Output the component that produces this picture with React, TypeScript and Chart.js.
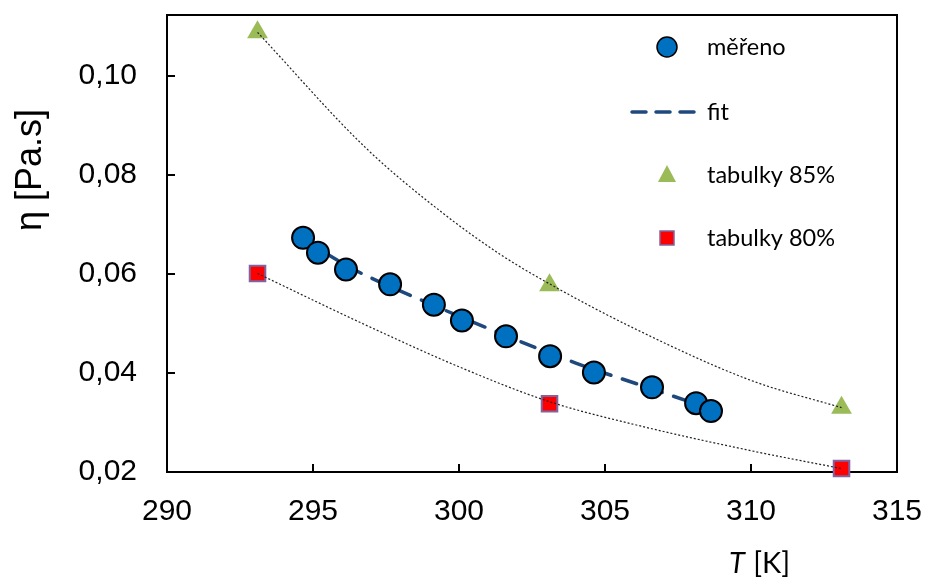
import React, { useEffect, useRef } from "react";
import { Chart, registerables } from "chart.js";

Chart.register(...registerables);

// ---- data ----
const measuredT = [294.66, 295.17, 296.13, 297.64, 299.14, 300.1, 301.61, 303.12, 304.62, 306.61, 308.12, 308.63];
const measuredEta = [0.0673, 0.0643, 0.0609, 0.0579, 0.0538, 0.0506, 0.0474, 0.0434, 0.0401, 0.0371, 0.0339, 0.0323];
const fitT = [294.6, 296.5, 299.0, 301.5, 304.0, 306.5, 308.7];
const fitEta = [0.0671, 0.0606, 0.054, 0.0478, 0.042, 0.037, 0.0326];
const tableT = [293.1, 303.1, 313.1];
const table85 = [0.1088, 0.0577, 0.033];
const table80 = [0.0601, 0.0338, 0.0207];
// dotted trend curves through the table points
const trend85T = [293.1, 296.8, 299.4, 301.4, 303.1, 306.0, 310.0, 313.1];
const trend85Eta = [0.1088, 0.0855, 0.0725, 0.064, 0.058, 0.049, 0.0385, 0.033];
const trend80T = [293.1, 296.8, 300.1, 303.1, 306.0, 310.0, 313.1];
const trend80Eta = [0.0601, 0.0497, 0.041, 0.0342, 0.0296, 0.0243, 0.0207];
const xTicks = [290, 295, 300, 305, 310, 315];
const yTicks = [0.02, 0.04, 0.06, 0.08, 0.1];
const legendLabels = ["měřeno", "fit", "tabulky 85%", "tabulky 80%"];
const xTitle = ["T", " [K]"];
const yTitle = "η [Pa.s]";

const pts = (xs: number[], ys: number[]) => xs.map((x, i) => ({ x, y: ys[i] }));

const BLUE = "#0070C0";
const GREEN = "#9BBB59";
const RED = "#FF0000";
const PURPLE = "#8064A2";
const NAVY = "#1F497D";

const zeroPad = (s: any) => {
  s.paddingLeft = 0;
  s.paddingRight = 0;
  s.paddingTop = 0;
  s.paddingBottom = 0;
};

const decorPlugin = {
  id: "decor",
  beforeDatasetsDraw(chart: any) {
    const { ctx, chartArea: a, scales } = chart;
    ctx.save();
    ctx.strokeStyle = "#000";
    ctx.lineWidth = 2;
    ctx.strokeRect(a.left, a.top, a.right - a.left, a.bottom - a.top);
    ctx.beginPath();
    xTicks.slice(1, -1).forEach((v) => {
      const px = Math.round(scales.x.getPixelForValue(v));
      ctx.moveTo(px, a.bottom);
      ctx.lineTo(px, a.bottom - 8);
    });
    yTicks.slice(1).forEach((v) => {
      const py = Math.round(scales.y.getPixelForValue(v));
      ctx.moveTo(a.left, py);
      ctx.lineTo(a.left + 8, py);
    });
    ctx.stroke();
    ctx.restore();
  },
  afterDraw(chart: any) {
    const { ctx } = chart;
    ctx.save();
    // y title
    ctx.fillStyle = "#000";
    ctx.font = "36px 'Liberation Sans', Arial, sans-serif";
    ctx.textAlign = "center";
    ctx.textBaseline = "middle";
    ctx.translate(31, 170);
    ctx.rotate(-Math.PI / 2);
    ctx.fillText(yTitle, 0, 0);
    ctx.restore();

    // x title
    ctx.save();
    ctx.fillStyle = "#000";
    ctx.textBaseline = "middle";
    ctx.textAlign = "left";
    const fIt = "italic 29px Lato, sans-serif";
    const fN = "29px Lato, sans-serif";
    ctx.font = fIt;
    const w1 = ctx.measureText(xTitle[0]).width;
    ctx.font = fN;
    const w2 = ctx.measureText(xTitle[1]).width;
    const x0 = 759 - (w1 + w2) / 2;
    ctx.font = fIt;
    ctx.fillText(xTitle[0], x0, 564);
    ctx.font = fN;
    ctx.fillText(xTitle[1], x0 + w1 + 1, 564);

    // legend
    const ys = [47, 112, 175, 238];
    const mx = 667;
    ctx.font = "23.5px Lato, sans-serif";
    legendLabels.forEach((t, i) => ctx.fillText(t, 707, ys[i]));
    // circle
    ctx.beginPath();
    ctx.arc(mx, ys[0], 10, 0, Math.PI * 2);
    ctx.fillStyle = BLUE;
    ctx.fill();
    ctx.lineWidth = 1.5;
    ctx.strokeStyle = "#000";
    ctx.stroke();
    // dashed line
    ctx.beginPath();
    ctx.setLineDash([14, 10]);
    ctx.lineCap = "round";
    ctx.strokeStyle = NAVY;
    ctx.lineWidth = 3.5;
    ctx.moveTo(632, ys[1]);
    ctx.lineTo(697, ys[1]);
    ctx.stroke();
    ctx.setLineDash([]);
    ctx.lineCap = "butt";
    // triangle
    ctx.beginPath();
    ctx.moveTo(mx, ys[2] - 10);
    ctx.lineTo(mx + 9, ys[2] + 7);
    ctx.lineTo(mx - 9, ys[2] + 7);
    ctx.closePath();
    ctx.fillStyle = GREEN;
    ctx.fill();
    // square
    ctx.fillStyle = RED;
    ctx.fillRect(mx - 7, ys[3] - 7, 14, 14);
    ctx.strokeStyle = PURPLE;
    ctx.lineWidth = 1.5;
    ctx.strokeRect(mx - 7, ys[3] - 7, 14, 14);
    ctx.restore();
  },
};

export default function App() {
  const ref = useRef<HTMLCanvasElement | null>(null);
  useEffect(() => {
    if (!ref.current) return;
    const chart = new Chart(ref.current, {
      type: "scatter",
      data: {
        datasets: [
          {
            label: "měřeno",
            data: pts(measuredT, measuredEta),
            pointStyle: "circle",
            pointRadius: 11,
            pointBackgroundColor: BLUE,
            pointBorderColor: "#000",
            pointBorderWidth: 2,
            showLine: false,
            clip: false,
          } as any,
          {
            label: "fit",
            data: pts(fitT, fitEta),
            showLine: true,
            pointRadius: 0,
            borderColor: NAVY,
            borderWidth: 3.5,
            borderDash: [15, 12],
            borderCapStyle: "round",
            cubicInterpolationMode: "monotone",
            clip: false,
          },
          {
            label: "85 line",
            data: pts(trend85T, trend85Eta),
            showLine: true,
            pointRadius: 0,
            borderColor: "#222",
            borderWidth: 1.2,
            borderDash: [2, 2],
            cubicInterpolationMode: "monotone",
            clip: false,
          },
          {
            label: "80 line",
            data: pts(trend80T, trend80Eta),
            showLine: true,
            pointRadius: 0,
            borderColor: "#222",
            borderWidth: 1.2,
            borderDash: [2, 2],
            cubicInterpolationMode: "monotone",
            clip: false,
          },
          {
            label: "tabulky 85%",
            data: pts(tableT, table85),
            showLine: false,
            pointStyle: "triangle",
            pointRadius: 12,
            pointBackgroundColor: GREEN,
            pointBorderColor: GREEN,
            pointBorderWidth: 0,
            clip: false,
          },
          {
            label: "tabulky 80%",
            data: pts(tableT, table80),
            showLine: false,
            pointStyle: "rect",
            pointRadius: 11,
            pointBackgroundColor: RED,
            pointBorderColor: PURPLE,
            pointBorderWidth: 2,
            clip: false,
          },
        ],
      },
      options: {
        animation: false,
        responsive: true,
        maintainAspectRatio: false,
        layout: { padding: { left: 0, top: 15, right: 28, bottom: 0 } },
        plugins: { legend: { display: false }, tooltip: { enabled: false } },
        scales: {
          x: {
            type: "linear",
            min: 290,
            max: 315,
            afterBuildTicks: (s: any) => {
              s.ticks = xTicks.map((v) => ({ value: v }));
            },
            afterFit: (s: any) => {
              s.height = 111;
              zeroPad(s);
            },
            grid: { display: false },
            border: { display: false },
            ticks: {
              color: "#000",
              padding: 14,
              font: { family: "'Liberation Sans', Arial, sans-serif", size: 30 },
              callback: (v: any) => String(v),
            },
          },
          y: {
            type: "linear",
            min: 0.02,
            max: 0.1123,
            afterBuildTicks: (s: any) => {
              s.ticks = yTicks.map((v) => ({ value: v }));
            },
            afterFit: (s: any) => {
              s.width = 167;
              zeroPad(s);
            },
            grid: { display: false },
            border: { display: false },
            ticks: {
              color: "#000",
              padding: 22,
              font: { family: "'Liberation Sans', Arial, sans-serif", size: 30 },
              callback: (v: any) => Number(v).toFixed(2).replace(".", ","),
            },
          },
        },
      },
      plugins: [decorPlugin],
    });
    return () => chart.destroy();
  }, []);
  return (
    <div style={{ position: "fixed", left: 0, top: 0, width: 925, height: 583, background: "#fff" }}>
      <canvas ref={ref} />
    </div>
  );
}
